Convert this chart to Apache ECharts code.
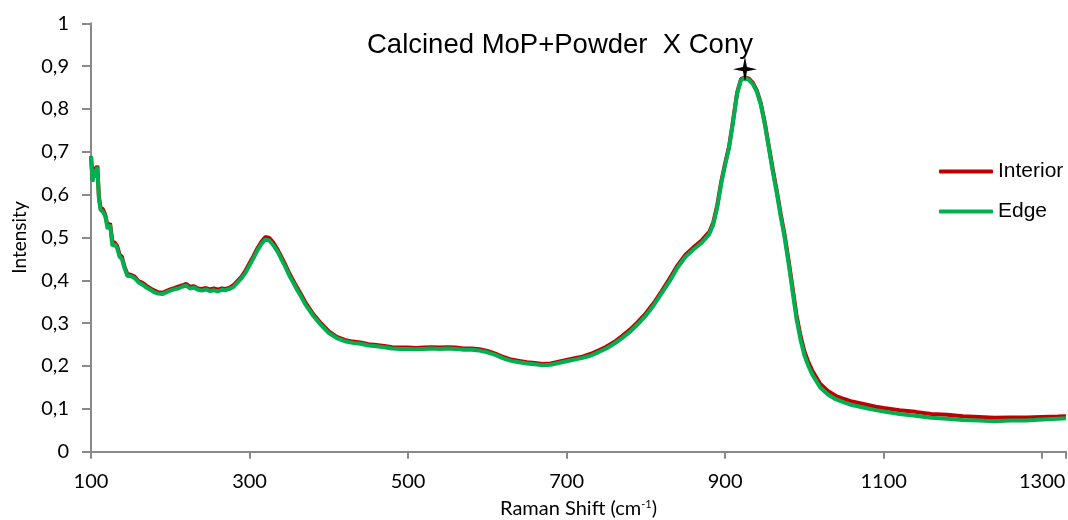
<!DOCTYPE html>
<html>
<head>
<meta charset="utf-8">
<script src="https://cdn.jsdelivr.net/npm/echarts@6/dist/echarts.min.js"></script>
<style>html,body{margin:0;padding:0;background:#fff}#c{width:1068px;height:520px}</style>
</head>
<body>
<div id="c"></div>
<script>
const titleText = 'Calcined MoP+Powder  X Cony';
const seriesNames = ['Interior', 'Edge'];
const ramanShift = [100,102,104,106,108,110,112,115,118,121,124,127,130,133,136,139,142,146,150,155,160,165,170,175,180,185,190,195,200,205,210,215,220,225,230,235,240,245,250,255,260,265,270,275,280,285,290,295,300,305,310,315,320,325,330,335,340,345,350,355,360,365,370,380,390,400,410,420,430,440,450,460,470,480,490,500,510,520,530,540,550,560,570,580,590,600,610,620,630,640,650,660,670,680,690,700,710,720,730,740,750,760,770,780,790,800,810,820,830,840,850,860,870,880,885,890,895,900,905,910,915,920,925,930,935,940,945,950,955,960,965,970,975,980,985,990,995,1000,1005,1010,1020,1030,1040,1050,1060,1070,1080,1090,1100,1120,1140,1160,1180,1200,1220,1240,1260,1280,1300,1320,1330];
const interior = [0.69,0.635,0.665,0.645,0.668,0.595,0.57,0.566,0.553,0.526,0.533,0.49,0.488,0.48,0.46,0.455,0.433,0.414,0.413,0.409,0.398,0.394,0.387,0.381,0.376,0.372,0.371,0.375,0.379,0.382,0.385,0.388,0.392,0.385,0.386,0.381,0.380,0.382,0.379,0.381,0.378,0.381,0.380,0.383,0.389,0.399,0.409,0.423,0.44,0.457,0.475,0.49,0.501,0.499,0.488,0.473,0.455,0.437,0.417,0.4,0.383,0.367,0.35,0.322,0.300,0.281,0.268,0.261,0.257,0.255,0.251,0.249,0.247,0.244,0.243,0.243,0.242,0.243,0.244,0.243,0.244,0.243,0.241,0.241,0.239,0.235,0.229,0.221,0.215,0.212,0.209,0.207,0.205,0.206,0.21,0.214,0.218,0.222,0.228,0.236,0.245,0.256,0.27,0.285,0.303,0.323,0.347,0.375,0.404,0.435,0.46,0.477,0.492,0.513,0.535,0.575,0.63,0.673,0.713,0.773,0.837,0.87,0.874,0.871,0.861,0.843,0.813,0.768,0.714,0.66,0.61,0.556,0.506,0.447,0.383,0.319,0.271,0.234,0.209,0.189,0.158,0.141,0.13,0.123,0.117,0.113,0.109,0.105,0.102,0.097,0.093,0.088,0.086,0.083,0.081,0.079,0.080,0.080,0.081,0.082,0.083];
const edge = [0.69,0.63,0.66,0.64,0.665,0.59,0.565,0.56,0.55,0.52,0.53,0.48,0.485,0.475,0.455,0.45,0.43,0.41,0.41,0.405,0.395,0.39,0.383,0.378,0.372,0.369,0.368,0.372,0.376,0.379,0.381,0.385,0.388,0.381,0.383,0.378,0.376,0.379,0.375,0.377,0.374,0.378,0.377,0.38,0.385,0.395,0.405,0.418,0.435,0.452,0.47,0.485,0.495,0.493,0.482,0.468,0.45,0.432,0.412,0.395,0.378,0.362,0.345,0.318,0.296,0.277,0.265,0.258,0.254,0.252,0.248,0.246,0.244,0.241,0.240,0.240,0.239,0.240,0.241,0.240,0.241,0.240,0.238,0.238,0.236,0.232,0.226,0.218,0.212,0.209,0.206,0.204,0.202,0.203,0.207,0.211,0.215,0.219,0.224,0.232,0.241,0.252,0.265,0.28,0.298,0.318,0.342,0.37,0.398,0.43,0.455,0.472,0.487,0.508,0.53,0.57,0.625,0.67,0.71,0.77,0.835,0.868,0.872,0.868,0.858,0.84,0.81,0.765,0.71,0.655,0.605,0.55,0.5,0.44,0.375,0.31,0.262,0.225,0.2,0.18,0.15,0.133,0.122,0.115,0.109,0.105,0.101,0.097,0.094,0.088,0.084,0.079,0.077,0.074,0.073,0.071,0.073,0.073,0.075,0.077,0.078];
const peakMarkX = [925];
const peakMarkY = [0.893];
const xTickLabels = ['100','300','500','700','900','1100','1300'];
const yTickLabels = ['0','0,1','0,2','0,3','0,4','0,5','0,6','0,7','0,8','0,9','1'];

const pairs = (xs, ys) => xs.map((x, i) => [x, ys[i]]);
const axisGray = '#898989';
const xMin = 100, xMax = 1330;
const chart = echarts.init(document.getElementById('c'), null, {renderer: 'canvas'});
chart.setOption({
  animation: false,
  backgroundColor: '#ffffff',
  title: {
    text: titleText,
    left: 367, top: 31, padding: 0,
    textStyle: {fontFamily: 'Liberation Sans', fontSize: 27.5, fontWeight: 'normal', color: '#000'}
  },
  legend: {
    data: seriesNames,
    orient: 'vertical',
    left: 939, top: 161, padding: 0,
    itemWidth: 54, itemHeight: 4, itemGap: 19,
    icon: 'roundRect',
    textStyle: {fontFamily: 'Liberation Sans', fontSize: 21, color: '#000'}
  },
  grid: {left: 91, right: 2, top: 23.3, bottom: 68.3, containLabel: false, outerBoundsMode: 'none'},
  xAxis: [{
    type: 'value', min: xMin, max: xMax, interval: 100,
    name: 'Raman Shift (cm{sup|-1})',
    nameLocation: 'middle', nameGap: 47,
    nameTextStyle: {fontFamily: 'Lato', fontSize: 20, color: '#000',
      rich: {sup: {fontFamily: 'Lato', fontSize: 11, verticalAlign: 'top', padding: [0,0,8,0], color: '#000'}}},
    axisLine: {lineStyle: {color: axisGray, width: 2}},
    axisTick: {show: false},
    splitLine: {show: false},
    axisLabel: {
      fontFamily: 'Lato', fontSize: 20, color: '#000', margin: 20,
      formatter: v => xTickLabels.indexOf(String(v)) >= 0 ? String(v) : '',
      showMaxLabel: false
    }
  }, {
    // tick-only helper axis: offset by xMin so ticks fall on 100, 300, ... 1300
    type: 'value', min: 0, max: xMax - xMin, interval: 200, position: 'bottom',
    axisLine: {show: false},
    axisTick: {show: true, length: 7, lineStyle: {color: axisGray, width: 2}},
    axisLabel: {show: false},
    splitLine: {show: false}
  }],
  yAxis: {
    type: 'value', min: 0, max: 1, interval: 0.1,
    name: 'Intensity', nameLocation: 'middle', nameGap: 62, nameRotate: 90,
    nameTextStyle: {fontFamily: 'Lato', fontSize: 19, color: '#000'},
    axisLine: {show: true, lineStyle: {color: axisGray, width: 2}},
    axisTick: {show: true, length: 9, lineStyle: {color: axisGray, width: 2}},
    splitLine: {show: false},
    axisLabel: {
      fontFamily: 'Lato', fontSize: 20, color: '#000', margin: 22,
      formatter: v => yTickLabels[Math.round(v * 10)]
    }
  },
  series: [
    {name: seriesNames[0], type: 'line', xAxisIndex: 0, data: pairs(ramanShift, interior), showSymbol: false, symbol: 'none',
     color: '#C00000', lineStyle: {width: 4, color: '#C00000'}, z: 2},
    {name: seriesNames[1], type: 'line', xAxisIndex: 0, data: pairs(ramanShift, edge), showSymbol: false, symbol: 'none',
     color: '#00B050', lineStyle: {width: 4, color: '#00B050'}, z: 3},
    {name: 'peak', type: 'scatter', xAxisIndex: 0, data: pairs(peakMarkX, peakMarkY),
     symbol: 'path://M0,-12 L2,-2 L12,0 L2,2 L0,12 L-2,2 L-12,0 L-2,-2 Z',
     symbolSize: [24, 26], itemStyle: {color: '#000', opacity: 1}, z: 5}
  ]
});
</script>
</body>
</html>
